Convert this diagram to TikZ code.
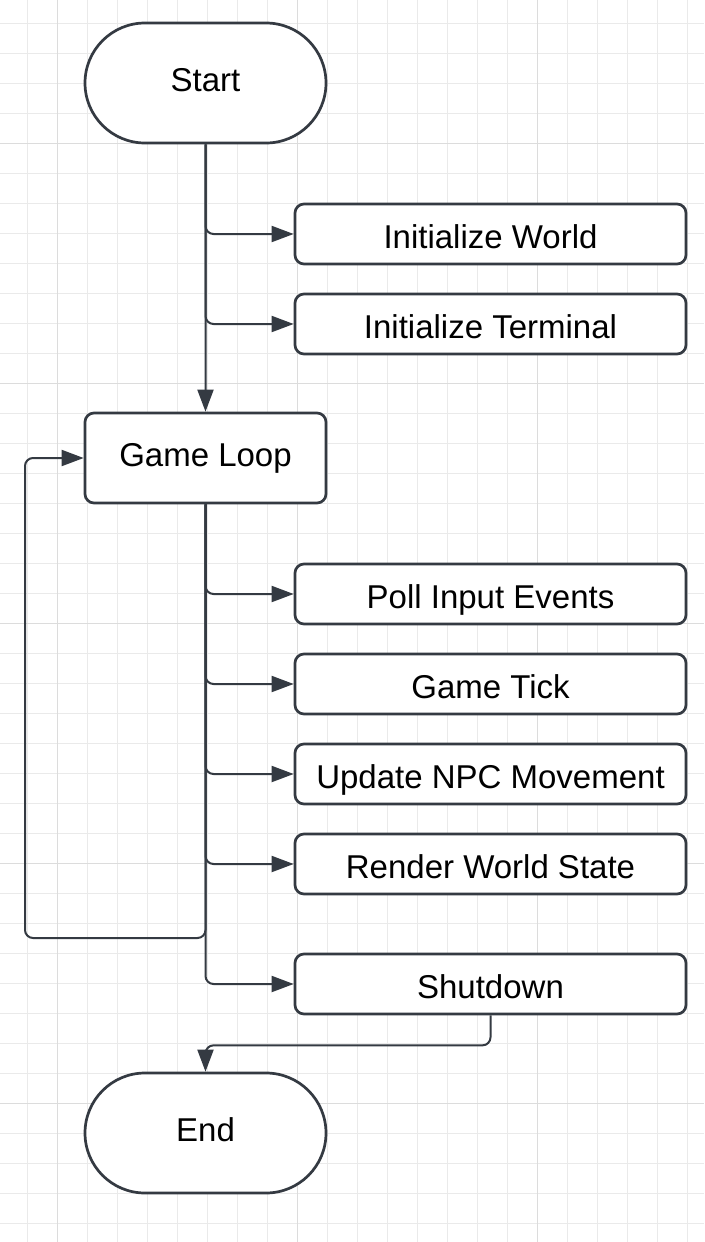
\documentclass[tikz,border=0pt]{standalone}
\usepackage{fontspec}
\setmainfont{Liberation Sans}
\usetikzlibrary{shapes,positioning,arrows.meta,calc}
\definecolor{inkgray}{HTML}{343A42}
\definecolor{gridgray}{HTML}{EAEAEA}
\definecolor{gridmajor}{HTML}{DCDCDC}

\begin{document}
\begin{tikzpicture}[x=1pt, y=-1pt,
    term/.style = {draw=inkgray, line width=2.7pt, rounded rectangle, minimum width=241pt, minimum height=120pt, inner sep=0pt, text height=24pt, text depth=7pt, font=\fontsize{33}{38}\selectfont},
    stepbox/.style = {draw=inkgray, line width=2.7pt, rounded corners=9pt, minimum width=391pt, minimum height=60pt, inner sep=0pt, text height=28pt, text depth=0pt, font=\fontsize{33}{38}\selectfont},
    conn/.style = {draw=inkgray, line width=2pt, rounded corners=8pt, -{Triangle[length=22pt, width=16pt]}}]
        \useasboundingbox (0,0) rectangle (704,1242);
        \fill [white] (0,0) rectangle (704,1242);
        \foreach \x in {27,57,...,700} \draw [gridgray, line width=1pt] (\x,0) -- (\x,1242);
        \foreach \y in {23,53,...,1240} \draw [gridgray, line width=1pt] (0,\y) -- (704,\y);
        \foreach \x in {57,297,537} \draw [gridmajor, line width=1pt] (\x,0) -- (\x,1242);
        \foreach \y in {143,383,623,863,1103} \draw [gridmajor, line width=1pt] (0,\y) -- (704,\y);
        \node [term, fill=white] (start) at (205.5,83) {Start};
        \node [stepbox, fill=white] (initworld) at (490.5,234) {Initialize World};
        \node [stepbox, fill=white] (initterm) at (490.5,324) {Initialize Terminal};
        \node [stepbox, fill=white, minimum width=241pt, minimum height=90pt, text height=24pt, text depth=7pt] (gameloop) at (205.5,458) {Game Loop};
        \node [stepbox, fill=white] (poll) at (490.5,594) {Poll Input Events};
        \node [stepbox, fill=white] (tick) at (490.5,684) {Game Tick};
        \node [stepbox, fill=white] (npc) at (490.5,774) {Update NPC Movement};
        \node [stepbox, fill=white] (render) at (490.5,864) {Render World State};
        \node [stepbox, fill=white] (shutdown) at (490.5,984) {Shutdown};
        \node [term, fill=white] (finish) at (205.5,1133) {End};
        \coordinate (loopback) at (25,938);
        \draw [conn] (start) -- (gameloop);
        \draw [conn] (start.south) |- (initworld);
        \draw [conn] (start.south) |- (initterm);
        \draw [conn] (gameloop.south) |- (poll);
        \draw [conn] (gameloop.south) |- (tick);
        \draw [conn] (gameloop.south) |- (npc);
        \draw [conn] (gameloop.south) |- (render);
        \draw [conn] (gameloop.south) |- (shutdown);
        \draw [conn] (gameloop.south) |- (loopback) |- (gameloop.west);
        \draw [conn] (shutdown.south) -- ++(0,30) -| (finish.north);
      \end{tikzpicture}
\end{document}
